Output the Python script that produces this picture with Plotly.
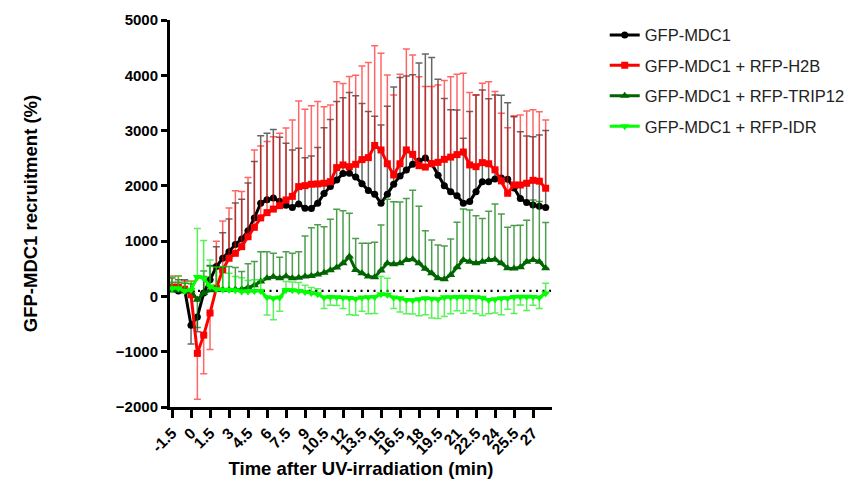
import plotly.graph_objects as go

# ---------------- data ----------------
time_min = [-1.5, -1.0, -0.5, 0.0, 0.5, 1.0, 1.5, 2.0, 2.5, 3.0,
            3.5, 4.0, 4.5, 5.0, 5.5, 6.0, 6.5, 7.0, 7.5, 8.0,
            8.5, 9.0, 9.5, 10.0, 10.5, 11.0, 11.5, 12.0, 12.5, 13.0,
            13.5, 14.0, 14.5, 15.0, 15.5, 16.0, 16.5, 17.0, 17.5, 18.0,
            18.5, 19.0, 19.5, 20.0, 20.5, 21.0, 21.5, 22.0, 22.5, 23.0,
            23.5, 24.0, 24.5, 25.0, 25.5, 26.0, 26.5, 27.0, 27.5, 28.0]

tick_values = [-1.5, 0, 1.5, 3, 4.5, 6, 7.5, 9, 10.5, 12, 13.5, 15, 16.5,
               18, 19.5, 21, 22.5, 24, 25.5, 27]
tick_labels = ["-1.5", "0", "1.5", "3", "4.5", "6", "7.5", "9", "10.5", "12",
               "13.5", "15", "16.5", "18", "19.5", "21", "22.5", "24", "25.5", "27"]

mdc1 = [150, 100, 120, -520, -370, 60, 300, 540, 690, 810,
        940, 1040, 1190, 1420, 1685, 1750, 1780, 1720, 1650, 1610,
        1670, 1595, 1590, 1685, 1860, 1990, 2107, 2222, 2228, 2160,
        2040, 1915, 1850, 1685, 1850, 2030, 2180, 2288, 2390, 2450,
        2505, 2400, 2190, 2000, 1895, 1823, 1685, 1715, 1895, 2076,
        2076, 2125, 2140, 2120, 1960, 1770, 1700, 1655, 1630, 1610]
mdc1_err = [185, 200, 180, 340, 270, 300, 260, 360, 460, 590,
            750, 720, 860, 1020, 1220, 1200, 1240, 1160, 1120, 1040,
            1010, 915, 950, 1010, 1190, 1210, 1420, 1370, 1460, 1470,
            1450, 1430, 1410, 1415, 1590, 1760, 1780, 1700, 1620, 1770,
            1880, 1920, 1740, 1580, 1480, 1550, 1175, 1630, 1750, 1660,
            1500, 1520, 1500, 1385, 1290, 1210, 1200, 1235, 1290, 1390]

h2b = [170, 170, 130, 30, -1030, -700, -300, 150, 480, 690,
       780, 900, 1080, 1250, 1420, 1516, 1580, 1642, 1745, 1810,
       1986, 2004, 2029, 2035, 2047, 2076, 2330, 2378, 2347, 2390,
       2475, 2510, 2730, 2649, 2400, 2197, 2400, 2649, 2570, 2365,
       2340, 2400, 2425, 2480, 2520, 2565, 2612, 2378, 2347, 2420,
       2400, 2290, 2090, 1866, 2016, 2016, 2047, 2100, 2085, 1957]
h2b_err = [200, 200, 150, 250, 830, 700, 660, 850, 885, 910,
           1130, 1000, 1070, 1400, 1300, 1285, 1310, 1310, 1300, 1380,
           1550, 1380, 1420, 1490, 1385, 1385, 1555, 1475, 1630, 1610,
           1695, 1720, 1805, 1750, 1605, 1445, 1620, 1825, 1795, 1610,
           1455, 1395, 1400, 1425, 1455, 1455, 1425, 1310, 1295, 1435,
           1485, 1415, 1225, 1185, 1250, 1265, 1305, 1275, 1255, 1235]

trip12 = [105, 105, 90, 110, -60, 60, 110, 115, 120, 120,
          125, 130, 160, 200, 270, 330, 355, 330, 365, 330,
          340, 360, 370, 395, 430, 475, 525, 600, 720, 480,
          420, 360, 348, 470, 600, 582, 600, 660, 672, 600,
          500, 419, 329, 311, 389, 528, 660, 629, 600, 629,
          660, 670, 600, 510, 505, 528, 629, 660, 629, 510]
trip12_err = [150, 150, 150, 120, 500, 400, 440, 420, 410, 420,
              400, 320, 430, 430, 540, 480, 425, 380, 445, 450,
              470, 734, 874, 900, 830, 920, 1050, 950, 785, 570,
              540, 600, 630, 820, 1160, 1130, 1110, 1110, 1250, 1030,
              690, 600, 600, 600, 650, 815, 920, 935, 860, 780,
              880, 1000, 890, 740, 780, 760, 750, 1085, 1090, 825]

idr = [150, 150, 100, 120, 350, 330, 180, 130, 120, 118,
       110, 90, 90, 100, 100, -15, -33, -20, 118, 110,
       100, 80, 60, 40, -20, -10, -15, -20, -30, -40,
       -20, -15, -10, 40, 30, -20, -33, -63, -70, -50,
       -33, -40, -50, -15, -15, -10, -5, -10, -15, -25,
       -63, -51, -33, -33, -10, -5, -5, -10, -20, 58]
idr_err = [200, 220, 150, 150, 880, 680, 480, 400, 420, 300,
           250, 250, 200, 200, 200, 320, 390, 250, 150, 150,
           150, 120, 100, 100, 200, 150, 150, 200, 300, 300,
           250, 300, 300, 320, 300, 200, 250, 250, 250, 300,
           300, 350, 350, 350, 300, 250, 300, 250, 300, 320,
           250, 250, 300, 200, 300, 150, 250, 150, 200, 180]

baseline_value = 100

series = [
    ("GFP-MDC1", mdc1, mdc1_err, "#000000", "rgba(0,0,0,0.6)", "circle", 7),
    ("GFP-MDC1 + RFP-H2B", h2b, h2b_err, "#FF0000", "rgba(255,0,0,0.6)", "square", 7),
    ("GFP-MDC1 + RFP-TRIP12", trip12, trip12_err, "#006400", "rgba(0,115,0,0.7)", "triangle-up", 8),
    ("GFP-MDC1 + RFP-IDR", idr, idr_err, "#00FF00", "rgba(0,235,0,0.65)", "triangle-down", 8),
]

FONT = "Liberation Sans, Arial, sans-serif"

fig = go.Figure()
for i, (name, vals, errs, col, ecol, sym, msz) in enumerate(series):
    plus = [e if v >= 0 else 0 for v, e in zip(vals, errs)]
    minus = [e if v < 0 else 0 for v, e in zip(vals, errs)]
    fig.add_trace(go.Scatter(
        x=time_min, y=vals, name=name, mode="lines+markers",
        line=dict(color=col, width=3),
        marker=dict(color=col, symbol=sym, size=msz),
        error_y=dict(type="data", symmetric=False, array=plus, arrayminus=minus,
                     color=ecol, thickness=1.5, width=3.5),
        legendgroup="g%d" % i,
    ))

fig.add_shape(type="line", xref="x", yref="y", x0=-1.5, x1=28.5,
              y0=baseline_value, y1=baseline_value,
              line=dict(color="black", width=2.2, dash="2px,4.5px"), layer="below")

# page body has an 8px default margin, so the figure is sized 845x478
fig.update_layout(
    width=845, height=478,
    margin=dict(l=162, r=301, t=12, b=79, autoexpand=False),
    paper_bgcolor="white", plot_bgcolor="white",
    font=dict(family=FONT, color="black"),
    showlegend=True,
    legend=dict(x=1.138, y=1.006, xanchor="left", yanchor="top",
                font=dict(family=FONT, size=16.5, color="#222222"),
                tracegroupgap=6, bgcolor="rgba(0,0,0,0)"),
    xaxis=dict(
        range=[-1.66, 28.5], tickmode="array", tickvals=tick_values, ticktext=tick_labels,
        tickangle=-45, ticks="outside", ticklen=8, tickwidth=3, tickcolor="black",
        showline=True, linewidth=3, linecolor="black", showgrid=False, zeroline=False,
        automargin=False,
        tickfont=dict(family=FONT, size=15.5, weight="bold", color="black"),
        title=dict(text="Time after UV-irradiation (min)", standoff=4,
                   font=dict(family=FONT, size=18.5, weight="bold", color="black")),
    ),
    yaxis=dict(
        range=[-2000, 5000], tickmode="linear", tick0=0, dtick=1000,
        ticks="outside", ticklen=6, tickwidth=3, tickcolor="black",
        showline=True, linewidth=3, linecolor="black", showgrid=False, zeroline=False,
        automargin=False,
        tickfont=dict(family=FONT, size=15, weight="bold", color="black"),
        title=dict(text="GFP-MDC1 recruitment (%)", standoff=74,
                   font=dict(family=FONT, size=18.5, weight="bold", color="black")),
    ),
)

fig.write_html("out.html")
